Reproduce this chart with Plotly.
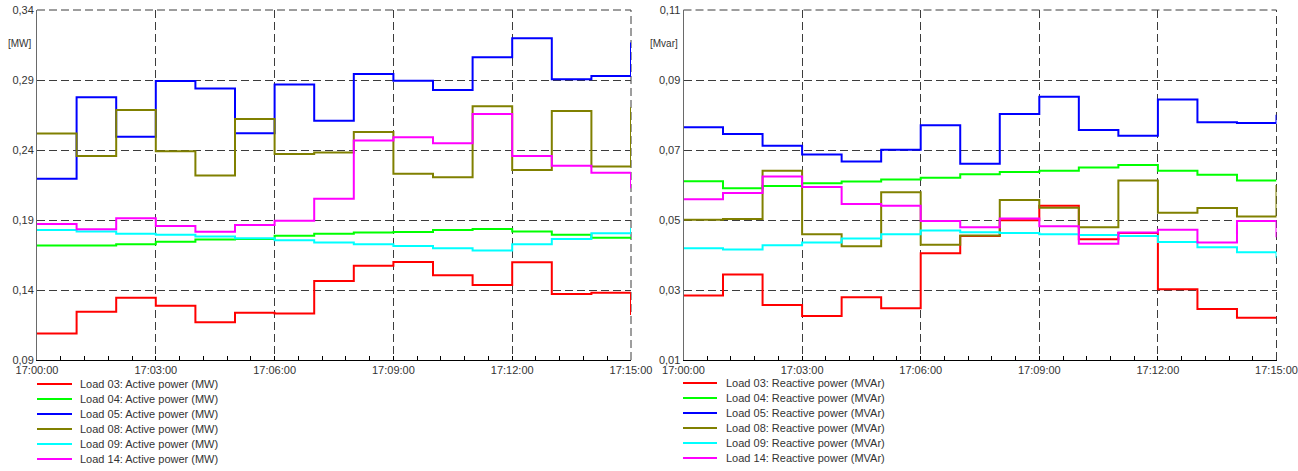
import pandas as pd
import plotly.graph_objects as go

# ---------------- data ----------------
times = pd.date_range("2024-01-01 17:00:00", periods=16, freq="1min")

load_names = ["Load 03", "Load 04", "Load 05", "Load 08", "Load 09", "Load 14"]
colors = ["#FF0000", "#00FF00", "#0000FF", "#808000", "#00FFFF", "#FF00FF"]

p_load03 = [0.109, 0.1245, 0.1345, 0.1288, 0.1169, 0.1238, 0.1233, 0.1464, 0.1574, 0.160, 0.1505, 0.1436, 0.1598, 0.1371, 0.1381, 0.1221]
p_load04 = [0.1717, 0.1717, 0.1726, 0.1745, 0.1760, 0.1764, 0.1788, 0.1802, 0.1810, 0.1814, 0.1829, 0.1836, 0.1817, 0.1795, 0.1774, 0.1764]
p_load05 = [0.2195, 0.2776, 0.2495, 0.2893, 0.2840, 0.2519, 0.2867, 0.2609, 0.2943, 0.2895, 0.2829, 0.3062, 0.3198, 0.2905, 0.2929, 0.3167]
p_load08 = [0.2517, 0.2357, 0.2686, 0.2391, 0.2217, 0.2621, 0.2371, 0.2383, 0.2529, 0.2231, 0.2205, 0.2712, 0.2257, 0.2679, 0.2283, 0.2705]
p_load09 = [0.1829, 0.1817, 0.1802, 0.1795, 0.1783, 0.1769, 0.1755, 0.1740, 0.1726, 0.1714, 0.1698, 0.1683, 0.1726, 0.1764, 0.1805, 0.1843]
p_load14 = [0.1871, 0.1834, 0.1912, 0.1857, 0.1816, 0.1864, 0.1895, 0.2052, 0.2467, 0.2491, 0.2448, 0.2657, 0.2357, 0.2288, 0.2238, 0.2126]

q_load03 = [0.0284, 0.0344, 0.0257, 0.0226, 0.0279, 0.0248, 0.0405, 0.0454, 0.0499, 0.0541, 0.0445, 0.0463, 0.0302, 0.0246, 0.0221, 0.0221]
q_load04 = [0.0611, 0.0591, 0.0597, 0.0605, 0.0610, 0.0616, 0.0621, 0.0631, 0.0637, 0.0641, 0.0650, 0.0657, 0.0641, 0.0629, 0.0613, 0.0613]
q_load05 = [0.0765, 0.0746, 0.0712, 0.0687, 0.0667, 0.0701, 0.0771, 0.0661, 0.0803, 0.0852, 0.0757, 0.0741, 0.0844, 0.0779, 0.0777, 0.0801]
q_load08 = [0.0501, 0.0503, 0.0641, 0.0459, 0.0425, 0.0579, 0.0429, 0.0456, 0.0557, 0.0535, 0.0479, 0.0613, 0.0521, 0.0534, 0.0510, 0.0600]
q_load09 = [0.0419, 0.0416, 0.0428, 0.0436, 0.0447, 0.0459, 0.0470, 0.0465, 0.0463, 0.0459, 0.0457, 0.0454, 0.0437, 0.0422, 0.0408, 0.0392]
q_load14 = [0.0559, 0.0577, 0.0624, 0.0594, 0.0546, 0.0541, 0.0497, 0.0479, 0.0504, 0.0482, 0.0432, 0.0464, 0.0472, 0.0436, 0.0497, 0.0451]

active = [p_load03, p_load04, p_load05, p_load08, p_load09, p_load14]
reactive = [q_load03, q_load04, q_load05, q_load08, q_load09, q_load14]

active_label = "Active power (MW)"
reactive_label = "Reactive power (MVAr)"

p_ticks = [0.09, 0.14, 0.19, 0.24, 0.29, 0.34]
q_ticks = [0.01, 0.03, 0.05, 0.07, 0.09, 0.11]

# ---------------- figure ----------------
W, H = 1298, 471
FONT = "Liberation Sans, Arial, sans-serif"

fig = go.Figure()

for name, col, vals in zip(load_names, colors, active):
    fig.add_trace(go.Scatter(x=times, y=vals, mode="lines", line_shape="hv",
                             line=dict(color=col, width=2), name=f"{name}: {active_label}",
                             xaxis="x", yaxis="y", showlegend=False))
for name, col, vals in zip(load_names, colors, reactive):
    fig.add_trace(go.Scatter(x=times, y=vals, mode="lines", line_shape="hv",
                             line=dict(color=col, width=2), name=f"{name}: {reactive_label}",
                             xaxis="x2", yaxis="y2", showlegend=False))

def px_x(px):
    return px / W

def px_y(py):
    return 1 - py / H

left_dom = [px_x(37), px_x(631)]
right_dom = [px_x(683.5), px_x(1276.5)]
y_dom = [px_y(360), px_y(10)]

EPS = 1e-7
grid_col = "#3c3c3c"
GRID_DASH = "8px,4px"
xcommon = dict(
    type="date", range=[times[0], times[-1]], dtick=180000, tick0=times[0],
    tickformat="%H:%M:%S", showgrid=True, gridcolor=grid_col, griddash=GRID_DASH, gridwidth=1,
    showline=True, linecolor="#000000", linewidth=1, ticks="inside", ticklen=4, tickcolor="#000000",
    minor=dict(dtick=36000, ticks="inside", ticklen=4, tickcolor="#000000", showgrid=False),
    tickfont=dict(family=FONT, size=11, color="#333333"), zeroline=False, fixedrange=True,
    automargin=False, ticklabeloverflow="allow",
)
ycommon = dict(
    showgrid=True, gridcolor=grid_col, griddash=GRID_DASH, gridwidth=1,
    showline=True, linecolor="#6a6a6a", linewidth=1, ticks="", tickformat=".2f",
    tickfont=dict(family=FONT, size=11, color="#333333"), zeroline=False, fixedrange=True,
    automargin=False, ticklabeloverflow="allow",
)

fig.update_layout(
    width=W, height=H, autosize=False,
    margin=dict(l=0, r=0, t=0, b=0, pad=0),
    paper_bgcolor="white", plot_bgcolor="white",
    separators=", ",
    showlegend=False,
    hovermode=False,
    xaxis=dict(domain=left_dom, anchor="y", **xcommon),
    yaxis=dict(domain=y_dom, anchor="x", range=[p_ticks[0], p_ticks[-1] + EPS], tickvals=p_ticks, **ycommon),
    xaxis2=dict(domain=right_dom, anchor="y2", **xcommon),
    yaxis2=dict(domain=y_dom, anchor="x2", range=[q_ticks[0], q_ticks[-1] + EPS], tickvals=q_ticks, **ycommon),
)

annotations = [
    dict(text="[MW]", x=px_x(6), y=px_y(44), xref="paper", yref="paper", showarrow=False,
         xanchor="left", yanchor="middle", font=dict(family=FONT, size=10, color="#333333")),
    dict(text="[Mvar]", x=px_x(648), y=px_y(44), xref="paper", yref="paper", showarrow=False,
         xanchor="left", yanchor="middle", font=dict(family=FONT, size=10, color="#333333")),
]
shapes = []

# dashed top / right frame lines (the gridlines that fall on the plot edges)
for xr, yr in (("x", "y"), ("x2", "y2")):
    shapes.append(dict(type="line", xref=f"{xr} domain", yref=f"{yr} domain",
                       x0=0, x1=1, y0=1, y1=1, layer="below",
                       line=dict(color=grid_col, width=1, dash=GRID_DASH)))
    shapes.append(dict(type="line", xref=f"{xr} domain", yref=f"{yr} domain",
                       x0=1, x1=1, y0=0, y1=1, layer="below",
                       line=dict(color=grid_col, width=1, dash=GRID_DASH)))

# manual compact legends below each panel
legend_specs = [
    (active_label, 37, 72, 78, 384),
    (reactive_label, 683, 717, 724, 383),
]
for label, sx0, sx1, tx, y0 in legend_specs:
    for i, (name, col) in enumerate(zip(load_names, colors)):
        yy = y0 + 15 * i
        shapes.append(dict(type="line", xref="paper", yref="paper",
                           x0=px_x(sx0), x1=px_x(sx1), y0=px_y(yy), y1=px_y(yy),
                           line=dict(color=col, width=2)))
        annotations.append(dict(text=f"{name}: {label}", x=px_x(tx), y=px_y(yy),
                                xref="paper", yref="paper", showarrow=False,
                                xanchor="left", yanchor="middle",
                                font=dict(family=FONT, size=11, color="#333333")))

fig.update_layout(annotations=annotations, shapes=shapes)

fig.write_html("out.html", config={"displayModeBar": False, "staticPlot": True},
               post_script="document.body.style.margin='0px';")
